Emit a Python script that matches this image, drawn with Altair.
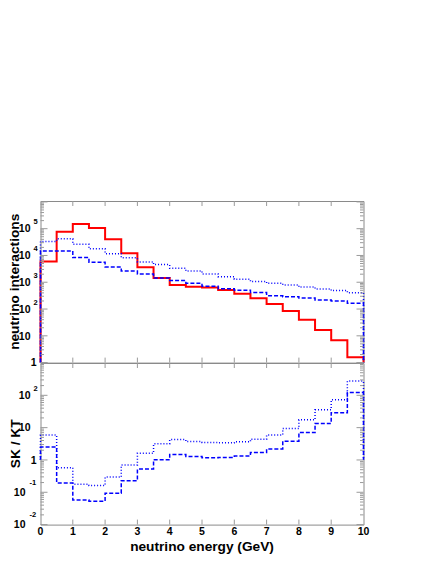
import altair as alt
import pandas as pd

# ---------------- data ----------------
edges = [0.0, 0.5, 1.0, 1.5, 2.0, 2.5, 3.0, 3.5, 4.0, 4.5, 5.0,
         5.5, 6.0, 6.5, 7.0, 7.5, 8.0, 8.5, 9.0, 9.5, 10.0]

kt_solid = [5900, 76000, 148000, 105000, 40700, 12000, 3630, 1450, 795, 685,
            630, 513, 372, 251, 155, 85, 40, 16.6, 6.9, 1.6]
sk_dotted = [33100, 41700, 26300, 17800, 11700, 8130, 5750, 4570, 3310, 2630,
             2040, 1620, 1290, 1070, 912, 794, 661, 562, 490, 407]
sk_dashed = [14800, 14800, 8320, 5620, 3720, 2630, 2040, 1450, 1150, 912,
             708, 575, 501, 417, 316, 288, 257, 219, 200, 166]

ratio_dotted = [5.9, 0.575, 0.178, 0.162, 0.295, 0.70, 1.62, 3.16, 4.27, 3.72,
                3.47, 3.39, 3.63, 4.37, 5.89, 9.33, 17.4, 35.5, 72.4, 275]
ratio_dashed = [2.51, 0.195, 0.0575, 0.0525, 0.0933, 0.229, 0.525, 1.02, 1.48, 1.29,
                1.17, 1.20, 1.32, 1.70, 2.19, 3.80, 7.08, 13.5, 28.8, 123]

top_domain = [1, 1.08e6]
bottom_domain = [0.01, 1000]

top_decades = [1, 10, 100, 1000, 10000, 100000]
top_exponents = ["", "", "2", "3", "4", "5"]
bottom_decades = [0.01, 0.1, 1, 10, 100]
bottom_exponents = ["-2", "-1", "", "", "2"]
x_tick_values = [1, 2, 3, 4, 5, 6, 7, 8, 9]
x_label_values = [0, 1, 2, 3, 4, 5, 6, 7, 8, 9, 10]

x_title = "neutrino energy (GeV)"
top_title = "neutrino interactions"
bottom_title = "SK / KT"

# ---------------- layout / style ----------------
W = 323
H = 161.6
FONT = "Liberation Sans"
FRAME = "#8a8a8a"
TICK = "#9a9a9a"

xscale = alt.Scale(domain=[0, 10], nice=False, zero=False)


def step_frame(values, base):
    xs, ys = [edges[0]], [base]
    for i, v in enumerate(values):
        xs += [edges[i], edges[i + 1]]
        ys += [v, v]
    xs.append(edges[-1])
    ys.append(base)
    return pd.DataFrame({"x": xs, "y": ys, "o": list(range(len(xs)))})


def decade_ticks(domain):
    lo, hi = domain
    majors, minors = [], []
    d = 1e-6
    while d <= hi * 1.0001:
        if d >= lo * 0.9999:
            majors.append(d)
        for k in range(2, 10):
            m = k * d
            if lo < m < hi:
                minors.append(m)
        d *= 10
    return majors, minors


def panel(series, domain, decades, exponents, base, title, title_dy, show_x):
    yscale = alt.Scale(type="log", domain=domain, nice=False)
    layers = []
    one = pd.DataFrame({"a": [0]})

    # invisible left guard that fixes the left edge of the layout
    layers.append(
        alt.Chart(one).mark_rule(opacity=0, strokeWidth=1).encode(
            x=alt.value(-35), y=alt.value(0), y2=alt.value(H)
        )
    )

    # histograms
    for values, color, width, dash in series:
        df = step_frame(values, base)
        kw = dict(color=color, strokeWidth=width, clip=False)
        if dash:
            kw["strokeDash"] = dash
        layers.append(
            alt.Chart(df).mark_line(**kw).encode(
                x=alt.X("x:Q", scale=xscale, axis=None),
                y=alt.Y("y:Q", scale=yscale, axis=None),
                order="o:Q",
            )
        )

    # inward y ticks (left and right)
    majors, minors = decade_ticks(domain)
    for vals, length in [(majors, 7), (minors, 3.5)]:
        tdf = pd.DataFrame({"v": vals})
        for x1, x2 in [(0, length), (W - length, W)]:
            layers.append(
                alt.Chart(tdf).mark_rule(color=TICK, strokeWidth=1).encode(
                    y=alt.Y("v:Q", scale=yscale, axis=None),
                    x=alt.value(x1), x2=alt.value(x2),
                )
            )

    # inward x ticks (top and bottom)
    xdf = pd.DataFrame({"x": x_tick_values})
    for y1, y2 in [(0, 5), (H - 5, H)]:
        layers.append(
            alt.Chart(xdf).mark_rule(color=TICK, strokeWidth=1).encode(
                x=alt.X("x:Q", scale=xscale, axis=None),
                y=alt.value(y1), y2=alt.value(y2),
            )
        )

    # y tick labels (ROOT-style 10 + superscript)
    ldf = pd.DataFrame({"v": decades, "e": exponents})
    txt = dict(font=FONT, fontWeight="bold", color="black")
    layers.append(
        alt.Chart(ldf).transform_filter("datum.v == 1").mark_text(
            align="right", baseline="alphabetic", fontSize=10.5, dy=3.8, **txt
        ).encode(y=alt.Y("v:Q", scale=yscale, axis=None), x=alt.value(-4), text=alt.value("1"))
    )
    layers.append(
        alt.Chart(ldf).transform_filter("datum.v > 1").mark_text(
            align="right", baseline="alphabetic", fontSize=10.5, dy=3.8, **txt
        ).encode(y=alt.Y("v:Q", scale=yscale, axis=None), x=alt.value(-10), text=alt.value("10"))
    )
    layers.append(
        alt.Chart(ldf).transform_filter("datum.v > 10").mark_text(
            align="left", baseline="alphabetic", fontSize=7.5, dy=-4.5, **txt
        ).encode(y=alt.Y("v:Q", scale=yscale, axis=None), x=alt.value(-7), text="e:N")
    )
    layers.append(
        alt.Chart(ldf).transform_filter("datum.v < 1").mark_text(
            align="right", baseline="alphabetic", fontSize=10.5, dy=3.8, **txt
        ).encode(y=alt.Y("v:Q", scale=yscale, axis=None), x=alt.value(-15), text=alt.value("10"))
    )
    layers.append(
        alt.Chart(ldf).transform_filter("datum.v < 1").mark_text(
            align="left", baseline="alphabetic", fontSize=7.5, dy=-7.5, **txt
        ).encode(y=alt.Y("v:Q", scale=yscale, axis=None), x=alt.value(-11), text="e:N")
    )

    # y title
    layers.append(
        alt.Chart(one).mark_text(
            text=title, angle=270, align="center", baseline="alphabetic",
            fontSize=13.7, dy=title_dy, **txt
        ).encode(x=alt.value(-22), y=alt.value(H / 2))
    )

    if show_x:
        xl = pd.DataFrame({"x": x_label_values})
        layers.append(
            alt.Chart(xl).mark_text(
                align="center", baseline="alphabetic", fontSize=10.5, **txt
            ).encode(
                x=alt.X("x:Q", scale=xscale, axis=None),
                y=alt.value(H + 10),
                text="x:Q",
            )
        )
        layers.append(
            alt.Chart(one).mark_text(
                text=x_title, align="center", baseline="alphabetic",
                fontSize=13.7, **txt
            ).encode(x=alt.value(W / 2), y=alt.value(H + 26))
        )

    return alt.layer(*layers).properties(width=W, height=H)


top = panel(
    [
        (kt_solid, "#ff0000", 2, None),
        (sk_dotted, "#0000ff", 1.5, [1, 2]),
        (sk_dashed, "#0000ff", 1.5, [4, 2]),
    ],
    top_domain, top_decades, top_exponents, 1, top_title, 0, False,
)

bottom = panel(
    [
        (ratio_dotted, "#0000ff", 1.5, [1, 2]),
        (ratio_dashed, "#0000ff", 1.5, [4, 2]),
    ],
    bottom_domain, bottom_decades, bottom_exponents, 1, bottom_title, 1.5, True,
)

chart = (
    alt.vconcat(top, bottom, spacing=0, bounds="flush")
    .properties(padding={"left": -3.5, "top": 192, "right": 0, "bottom": 0})
    .configure_view(stroke=FRAME, strokeWidth=1)
)

chart.save("out.html", embed_options={"renderer": "svg", "actions": False})
